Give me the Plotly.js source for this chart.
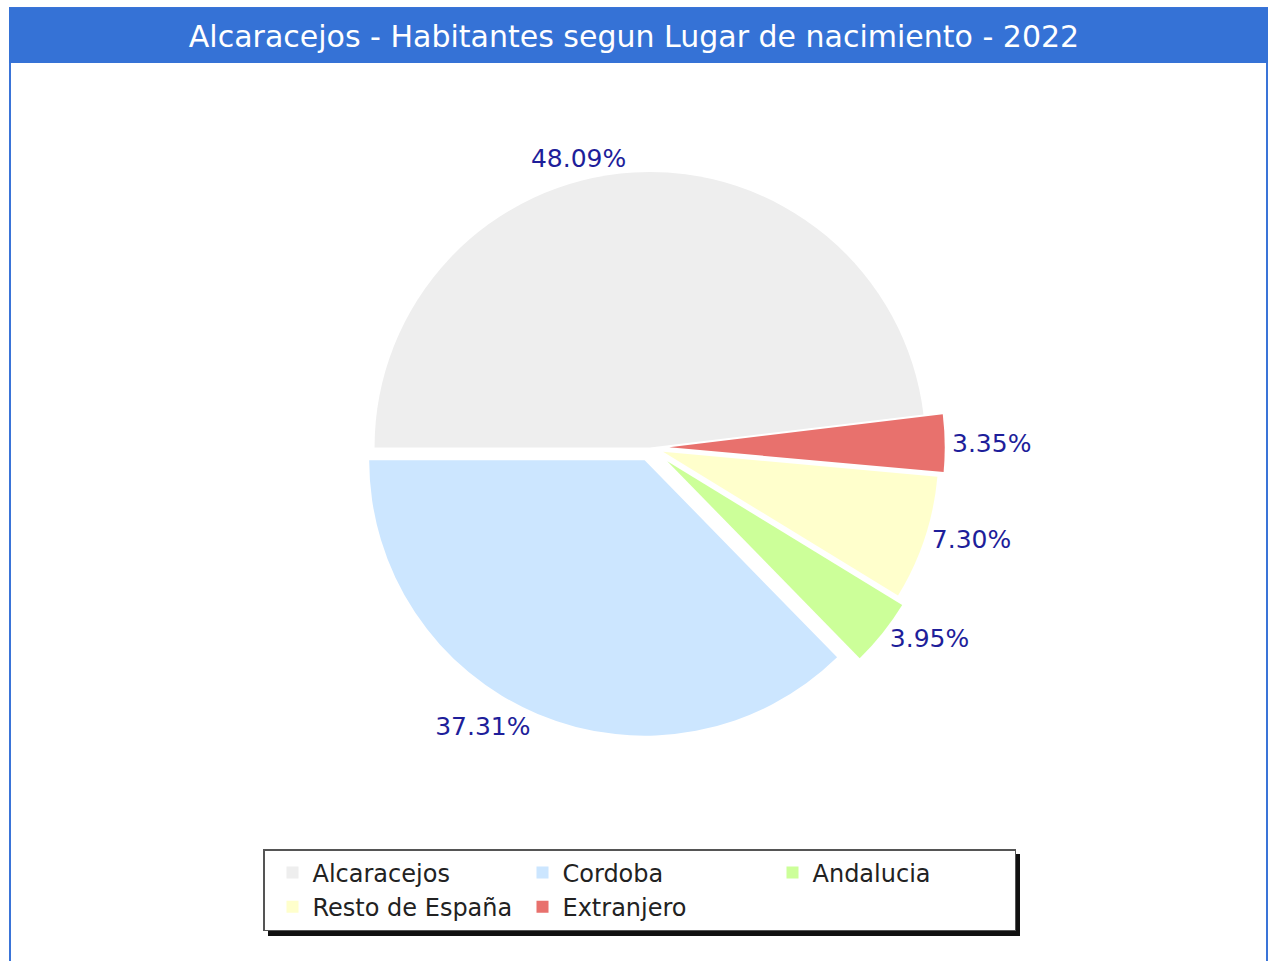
<!DOCTYPE html>
<html>
<head>
<meta charset="utf-8">
<script src="https://cdn.plot.ly/plotly-3.0.1.min.js"></script>
<style>html,body{margin:0;padding:0;background:#fff;}#chart{width:1268px;height:961px;}</style>
</head>
<body>
<div id="chart"></div>
<script>
const categories = ["Alcaracejos", "Cordoba", "Andalucia", "Resto de España", "Extranjero"];
const percentages = [48.09, 37.31, 3.95, 7.30, 3.35];
const sliceColors = ["#eeeeee", "#cce6ff", "#ccff99", "#ffffcc", "#e8716d"];
const pulls = [0, 0.05, 0.08, 0.05, 0.07];
const titleText = "Alcaracejos - Habitantes segun Lugar de nacimiento - 2022";

const W = 1268, H = 961;
const ML = 263, MR = 200;
const PW = W - ML - MR;
const px = x => (x - ML) / PW;
const py = y => 1 - y / H;

const trace = {
  type: "pie",
  labels: categories,
  values: percentages,
  sort: false,
  direction: "counterclockwise",
  rotation: -90,
  pull: pulls,
  marker: {colors: sliceColors, line: {width: 0}},
  textposition: "outside",
  texttemplate: "%{value:.2f}%",
  textfont: {family: "DejaVu Sans", size: 25, color: "#1e1e9a"},
  hoverinfo: "label+percent",
  domain: {x: [px(263), px(1037)], y: [py(745), py(150)]},
  showlegend: true
};

const layout = {
  width: W, height: H,
  margin: {l: ML, r: MR, t: 0, b: 0, autoexpand: false},
  paper_bgcolor: "#ffffff",
  plot_bgcolor: "#ffffff",
  title: {
    text: titleText,
    font: {family: "DejaVu Sans", size: 30, color: "#ffffff"},
    x: 0.5, xanchor: "center", xref: "container",
    y: py(36), yanchor: "middle", yref: "container"
  },
  showlegend: true,
  legend: {
    orientation: "h",
    x: 0, xanchor: "left",
    y: py(849), yanchor: "top",
    bgcolor: "#ffffff",
    bordercolor: "#555555",
    borderwidth: 1.5,
    indentation: 8,
    entrywidth: 197,
    font: {family: "DejaVu Sans", size: 24, color: "#222222"},
    traceorder: "normal",
    itemclick: false
  },
  shapes: [
    {type: "rect", xref: "paper", yref: "paper", x0: px(10), x1: px(1267), y0: py(975), y1: py(8),
     line: {color: "#3a74d8", width: 2}, fillcolor: "rgba(0,0,0,0)", layer: "below"},
    {type: "rect", xref: "paper", yref: "paper", x0: px(9), x1: px(1268), y0: py(63), y1: py(8),
     line: {width: 0}, fillcolor: "#3572d6", layer: "below"},
    {type: "rect", xref: "paper", yref: "paper", x0: px(268), x1: px(1020), y0: py(936), y1: py(854),
     line: {width: 0}, fillcolor: "#111111", layer: "below"}
  ]
};

Plotly.newPlot("chart", [trace], layout, {displayModeBar: false, staticPlot: true});
</script>
</body>
</html>
